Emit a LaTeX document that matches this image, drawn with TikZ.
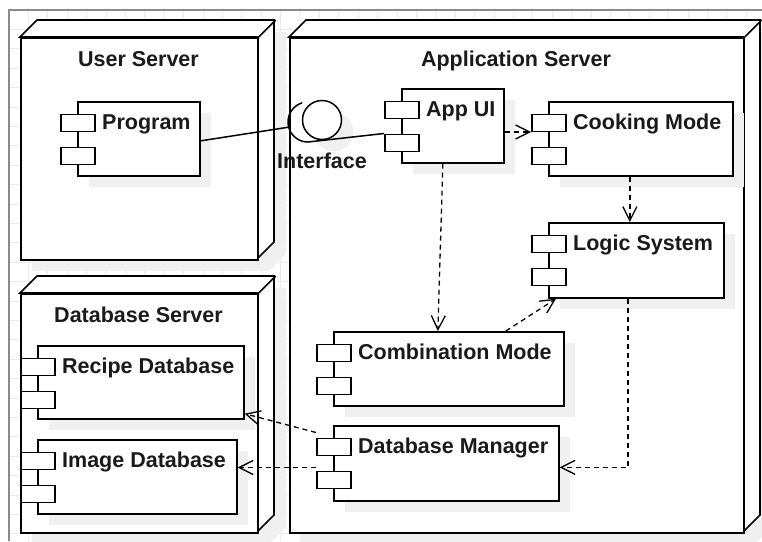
\documentclass[tikz,border=0pt]{standalone}
\usepackage{fontspec}
\setmainfont{Liberation Sans}
\usetikzlibrary{arrows.meta,calc}
\definecolor{shadowc}{HTML}{F0F0F0}
\definecolor{gridc}{HTML}{EBEBEB}
\definecolor{framec}{HTML}{8A8A8A}
\definecolor{txt}{HTML}{1A1A1A}

% 3D deployment node: name, x, y, width, height, title
\newcommand{\umlnode}[6]{%
  \fill[shadowc] (#2+12,#3+12) -- (#2+29,#3-5) -- (#2+#4+29,#3-5) -- (#2+#4+29,#3+#5-5) -- (#2+#4+12,#3+#5+12) -- (#2+12,#3+#5+12) -- cycle;
  \filldraw[shape3d] (#2,#3) -- (#2+17,#3-17) -- (#2+#4+17,#3-17) -- (#2+#4+17,#3+#5-17) -- (#2+#4,#3+#5) -- (#2+#4,#3) -- cycle;
  \node[compbox, minimum width=#4pt, minimum height=#5pt, anchor=north west] (#1) at (#2,#3) {};
  \draw[shape3d] (#1.north east) -- ++(17,-17);
  \node[lbl, anchor=base] (#1-t) at (#2+#4/2,#3+29) {#6};
}
% component: name, x, y, width, height, label
\newcommand{\umlcomp}[6]{%
  \fill[shadowc] (#2+12,#3+12) rectangle ++(#4,#5);
  \node[compbox, minimum width=#4pt, minimum height=#5pt, anchor=north west] (#1) at (#2,#3) {};
  \node[port, anchor=north west] (#1-p1) at (#2-17,#3+12.5) {};
  \node[port, anchor=north west] (#1-p2) at (#2-17,#3+45.5) {};
  \node[lbl, anchor=base west] (#1-t) at (#2+25,#3+28.5) {#6};
}

\begin{document}
\begin{tikzpicture}[x=1pt,y=-1pt,
  shape3d/.style={draw=black, fill=white, line width=1.7pt, line join=miter},
  compbox/.style={draw=black, fill=white, line width=1.7pt, rectangle, inner sep=0pt},
  port/.style={draw=black, fill=white, line width=1.5pt, rectangle, inner sep=0pt, minimum width=34pt, minimum height=17pt},
  lbl/.style={font=\fontsize{21.5}{25}\selectfont\bfseries, text=txt, inner sep=0pt},
  dep/.style={draw=black, line width=1.3pt, dash pattern=on 5pt off 4pt, -{Straight Barb[length=14pt,width=14pt,line width=1.3pt]}},
  solidline/.style={draw=black, line width=1.5pt},
  gridline/.style={draw=gridc, line width=0.8pt},
  framel/.style={draw=framec, line width=1.5pt}
]
\useasboundingbox (0,0) rectangle (762,541);
\fill[white] (0,0) rectangle (762,541);

% grid
\foreach \i in {0,...,38} { \draw[gridline] ({9+19.4*\i},10) -- ({9+19.4*\i},541); }
\foreach \j in {0,...,27} { \draw[gridline] (9,{10+19.4*\j}) -- (762,{10+19.4*\j}); }
\draw[framel] (9,541) -- (9,10) -- (762,10);

% deployment nodes
\umlnode{usrv}{20}{37}{237}{222}{User Server}
\umlnode{asrv}{289}{37}{454}{495}{Application Server}
\umlnode{dsrv}{20}{293}{237}{239}{Database Server}

% components
\umlcomp{prog}{77}{101}{122}{74}{Program}
\umlcomp{appui}{401}{88}{102}{74}{App UI}
\umlcomp{cook}{548}{101}{184}{74}{Cooking Mode}
\umlcomp{logic}{548}{222}{175}{75}{Logic System}
\umlcomp{comb}{333}{331}{230}{74}{Combination Mode}
\umlcomp{dbm}{333}{425}{225}{75}{Database Manager}
\umlcomp{recipe}{37}{345}{206}{73}{Recipe Database}
\umlcomp{image}{37}{439}{199}{74}{Image Database}

% interface
\fill[shadowc] (334,132) circle[radius=19.5];
\node[circle, draw=black, fill=white, line width=1.5pt, minimum size=39pt, inner sep=0pt] (iface) at (322,120) {};
\draw[solidline] plot[domain=90:253, samples=40, smooth] ({308+20*cos(\x)},{122+20*sin(\x)});
\coordinate (sockL) at ({308+20*cos(165)},{122+20*sin(165)});
\coordinate (sockB) at (308,142);
\node[lbl, anchor=base] (iface-t) at (322,168.5) {Interface};

% solid connectors
\draw[solidline] ($(prog.east)+(0,2)$) -- (sockL);
\draw[solidline] (sockB) -- (appui-p2.north west);

% dependencies
\draw[dep] (appui.east |- cook-p1.south west) -- (cook-p1.south west);
\draw[dep] ($(cook.south)+(-11,0)$) coordinate (c1) -- (c1 |- logic.north);
\draw[dep] ($(appui.south)+(-10,0)$) -- ($(comb.north)+(-11,0)$);
\draw[dep] ($(comb.north)+(57,0)$) -- ($(logic.south west)+(8,0)$);
\draw[dep] ($(logic.south)+(-8.5,0)$) |- ($(dbm.east)+(0,4)$);
\draw[dep] ($(dbm-p1.north west)+(0,-5)$) -- ($(recipe.south east)+(0,-6)$);
\draw[dep] ($(dbm-p2.north west)+(0,-3)$) coordinate (d2) -- (d2 -| image.east);
\end{tikzpicture}
\end{document}
